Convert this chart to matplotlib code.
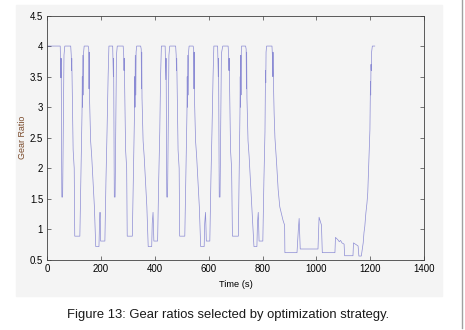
import matplotlib
matplotlib.use('Agg')
import matplotlib.pyplot as plt
from matplotlib.patches import Rectangle
from matplotlib.lines import Line2D
from matplotlib.ticker import FormatStrFormatter

plt.rcParams['font.family'] = ['Liberation Sans', 'DejaVu Sans']

# gear ratio trace (time in s)
time_s = [
    0, 48, 49, 50.5, 51.5, 52, 54, 57, 60, 62, 63, 65, 87, 89, 90, 91, 96, 100, 102, 121,
    125, 129, 130, 131, 132, 134, 135, 137, 152, 154, 155, 156, 157, 161, 165, 175, 180, 192,
    194, 196, 197, 198, 214, 218, 222, 226, 229,
    243, 244, 245.5, 246.5, 247, 249, 252, 255, 257, 258, 260, 282, 284, 285, 286, 291, 295, 297, 316,
    320, 324, 325, 326, 327, 329, 330, 332, 347, 349, 350, 351, 352, 356, 360, 370, 375, 388,
    390, 393, 394, 396, 410, 414, 418, 421, 424,
    438, 439, 440.5, 441.5, 442, 444, 447, 450, 452, 453, 455, 477, 479, 480, 481, 486, 490, 492, 511,
    515, 519, 520, 521, 522, 524, 525, 527, 542, 544, 545, 546, 547, 551, 555, 565, 570, 583,
    585, 588, 589, 591, 604, 608, 612, 616, 619,
    633, 634, 635.5, 636.5, 637, 639, 642, 645, 647, 648, 652, 672, 674, 675, 676, 681, 685, 688, 710,
    713, 716, 717, 718, 719, 720, 721, 722, 737, 739, 740, 741, 742, 746, 750, 760, 768, 779,
    781, 784, 785, 787, 801, 805, 809, 811, 812, 813, 815,
    835, 837, 838, 839, 841, 843, 846, 852, 858, 864, 876, 882, 883, 928, 933, 936, 940,
    1006, 1010, 1019, 1022, 1069, 1071, 1080, 1085, 1090, 1095, 1103, 1105, 1136, 1138, 1145,
    1155, 1158, 1167, 1174, 1177, 1180, 1184, 1188, 1191, 1194, 1196, 1199, 1201, 1202, 1203,
    1204, 1205, 1208, 1217,
]
gear_ratio = [
    4.0, 4.0, 3.8, 3.48, 3.8, 3.4, 1.53, 1.53, 3.0, 3.85, 3.9, 4.0, 4.0, 3.85, 3.6, 3.8, 2.3, 2.0, 0.89, 0.89,
    1.9, 2.9, 3.5, 3.0, 3.85, 3.2, 3.9, 4.0, 4.0, 3.95, 3.3, 3.9, 3.15, 2.45, 2.2, 1.37, 0.72, 0.72,
    1.1, 1.28, 1.15, 0.81, 0.81, 1.8, 2.6, 3.5, 4.0,
    4.0, 3.8, 3.5, 3.8, 3.4, 1.53, 1.53, 3.0, 3.85, 3.9, 4.0, 4.0, 3.85, 3.6, 3.8, 2.3, 2.0, 0.89, 0.89,
    1.9, 2.9, 3.5, 3.0, 3.85, 3.2, 3.9, 4.0, 4.0, 3.95, 3.3, 3.9, 3.15, 2.45, 2.2, 1.37, 0.72, 0.72,
    1.1, 1.28, 1.15, 0.81, 0.81, 1.8, 2.6, 3.5, 4.0,
    4.0, 3.8, 3.45, 3.8, 3.4, 1.53, 1.53, 3.0, 3.85, 3.9, 4.0, 4.0, 3.85, 3.6, 3.8, 2.3, 2.0, 0.89, 0.89,
    1.9, 2.9, 3.5, 3.0, 3.85, 3.2, 3.9, 4.0, 4.0, 3.95, 3.3, 3.9, 3.15, 2.45, 2.2, 1.37, 0.72, 0.72,
    1.1, 1.28, 1.15, 0.81, 0.81, 1.8, 2.6, 3.5, 4.0,
    4.0, 3.8, 3.5, 3.8, 3.4, 1.53, 1.53, 3.0, 3.85, 3.9, 4.0, 4.0, 3.85, 3.6, 3.8, 2.3, 2.0, 0.89, 0.89,
    1.9, 2.9, 3.5, 3.0, 3.85, 3.2, 3.9, 4.0, 4.0, 3.95, 3.3, 3.9, 3.15, 2.45, 2.2, 1.37, 0.72, 0.72,
    1.1, 1.28, 1.15, 0.81, 0.81, 1.8, 2.6, 3.6, 3.4, 3.9, 4.0,
    4.0, 3.8, 3.5, 3.9, 3.3, 2.9, 2.5, 2.1, 1.65, 1.37, 1.15, 1.07, 0.62, 0.62, 1.0, 1.18, 0.68,
    0.68, 1.2, 1.07, 0.62, 0.62, 0.87, 0.83, 0.8, 0.82, 0.78, 0.76, 0.57, 0.57, 0.78, 0.76,
    0.73, 0.565, 0.565, 0.78, 0.95, 1.05, 1.27, 1.43, 1.6, 2.0, 2.3, 2.63, 3.42, 3.2, 3.7,
    3.6, 3.89, 4.0, 4.0,
]

x_ticks = [0, 200, 400, 600, 800, 1000, 1200, 1400]
y_ticks = [0.5, 1, 1.5, 2, 2.5, 3, 3.5, 4, 4.5]

W, H = 465, 330
fig = plt.figure(figsize=(W / 100, H / 100), dpi=100)

# light grey matlab figure panel and the page border line on the right
fig.patches.append(Rectangle((16 / W, 1 - 296 / H), (442 - 16) / W, (296 - 5) / H,
                             transform=fig.transFigure, color='#f4f4f4', zorder=-5))
fig.add_artist(Line2D([461.5 / W] * 2, [2 / H, 1], color='#a0a0a0', lw=1.0))

ax = fig.add_axes([47.3 / W, 1 - 260 / H, (424 - 47.3) / W, (260 - 15.5) / H])
ax.set_zorder(2)
ax.set_facecolor('#f4f4f4')
ax.plot(time_s, gear_ratio, color='#4646bf', lw=0.5, alpha=0.6)

ax.set_xlim(0, 1400)
ax.set_ylim(0.5, 4.5)
ax.set_xticks(x_ticks)
ax.set_yticks(y_ticks)
ax.yaxis.set_major_formatter(FormatStrFormatter('%g'))
ax.tick_params(direction='in', top=True, right=True, length=3, width=0.5,
               color='#404040', labelsize=6.9, pad=3)
for s in ax.spines.values():
    s.set_color('#404040')
    s.set_linewidth(0.6)

ax.set_xlabel('Time (s)', fontsize=6.7, labelpad=4)
ax.set_ylabel('Gear Ratio', fontsize=6.4, color='#7a4a2a', labelpad=2)

fig.text(228 / W, 1 - 315 / H, 'Figure 13: Gear ratios selected by optimization strategy.',
         ha='center', va='center', fontsize=9.4, color='#1a1a1a')

fig.savefig('out.png', dpi=100)
